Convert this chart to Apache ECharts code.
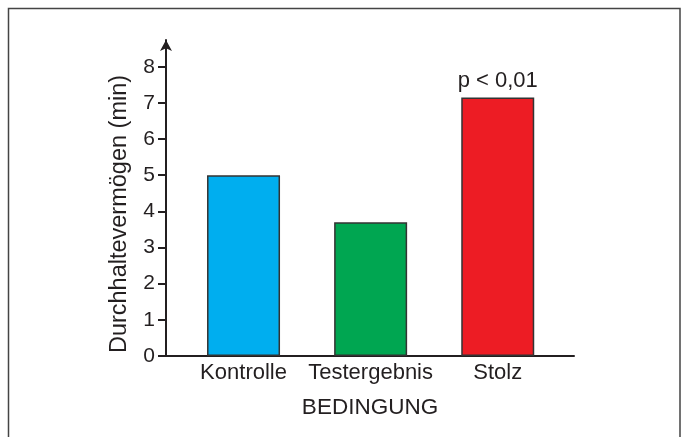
<!DOCTYPE html>
<html><head><meta charset="utf-8">
<script src="https://cdn.jsdelivr.net/npm/echarts@6/dist/echarts.min.js"></script>
<style>html,body{margin:0;padding:0;background:#fff}#c{width:686px;height:437px}</style>
</head><body><div id="c"></div>
<script>
var categories = ['Kontrolle', 'Testergebnis', 'Stolz'];
var values = [5.0, 3.7, 7.15];
var colors = ['#00AEEF', '#00A651', '#ED1C24'];
var barLabels = ['', '', 'p < 0,01'];
var yTicks = [0, 1, 2, 3, 4, 5, 6, 7, 8];
var catPos = [1, 2, 3];

var font = 'Liberation Sans, Arial, Helvetica, sans-serif';
var axisColor = '#231F20';
var chart = echarts.init(document.getElementById('c'));
chart.setOption({
  animation: false,
  graphic: [{
    type: 'rect', shape: {x: 8.5, y: 8.5, width: 671.5, height: 450},
    style: {fill: 'none', stroke: '#444', lineWidth: 1.5}, silent: true
  }],
  grid: {left: 166, right: 112, top: 40, bottom: 81},
  xAxis: {
    type: 'value', min: 0.39, max: 3.6,
    name: 'BEDINGUNG', nameLocation: 'middle', nameGap: 40,
    nameTextStyle: {fontFamily: font, fontSize: 22.5, color: axisColor},
    axisLine: {show: true, lineStyle: {color: axisColor, width: 2}},
    axisTick: {show: false},
    splitLine: {show: false},
    axisLabel: {
      customValues: catPos, margin: 6,
      fontFamily: font, fontSize: 22, color: axisColor,
      formatter: function (v) { return categories[Math.round(v) - 1] || ''; }
    }
  },
  yAxis: {
    type: 'value', min: 0, max: 8.74,
    name: 'Durchhaltevermögen (min)', nameLocation: 'middle', nameGap: 34,
    nameTextStyle: {fontFamily: font, fontSize: 23.5, color: axisColor, padding: [0, 32, 0, 0]},
    axisLine: {show: true, symbol: ['none', 'arrow'], symbolSize: [9, 11], symbolOffset: [0, 0],
      lineStyle: {color: axisColor, width: 2}},
    axisTick: {show: true, customValues: yTicks, length: 8, lineStyle: {color: axisColor, width: 2}},
    splitLine: {show: false},
    axisLabel: {customValues: yTicks, margin: 11, fontFamily: font, fontSize: 21, color: axisColor}
  },
  series: [{
    type: 'bar', barWidth: 73,
    data: values.map(function (v, i) {
      return {
        value: [catPos[i], v],
        itemStyle: {color: colors[i], borderColor: '#333', borderWidth: 1.5},
        label: {show: !!barLabels[i], position: 'top', distance: 6, formatter: barLabels[i],
          fontFamily: font, fontSize: 22, color: axisColor}
      };
    })
  }]
});
</script></body></html>
